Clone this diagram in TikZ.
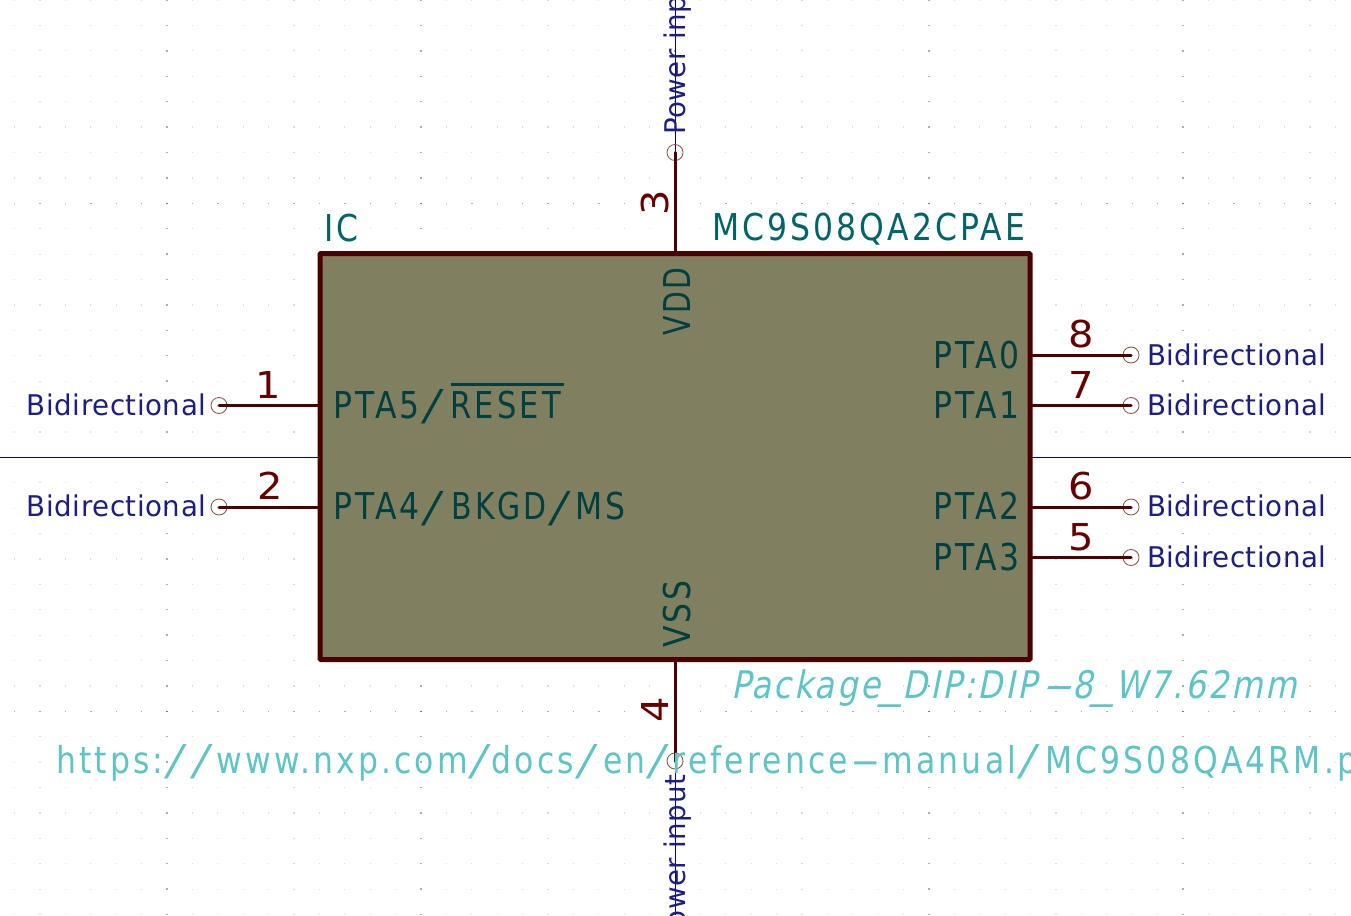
\documentclass[tikz,border=0pt]{standalone}
\usepackage{fontspec}
\setmainfont{DejaVu Sans}
\newfontfamily\nameface[FakeStretch=0.85,LetterSpace=8.5]{DejaVu Sans}
\newfontfamily\numface[FakeStretch=1.08]{DejaVu Sans}
\newfontfamily\netface[FakeStretch=0.97,LetterSpace=2]{DejaVu Sans}
\newfontfamily\slantface[FakeStretch=0.85,FakeSlant=0.2,LetterSpace=6.7]{DejaVu Sans}
\newfontfamily\slashface[FakeSlant=0.28]{Liberation Sans}
\newcommand{\wideslash}[2]{\kern#1pt\raisebox{-5.5pt}{\slashface\fontsize{47}{47}\selectfont /}\kern#2pt}
\newcommand{\widehy}{\kern2pt\scalebox{2.7}[1]{-}\kern2pt}
\newcommand{\wideus}{\scalebox{1.4}[1]{\_}}
\definecolor{pinc}{HTML}{480000}
\definecolor{numc}{HTML}{640000}
\definecolor{bodyc}{HTML}{808060}
\definecolor{namec}{HTML}{003F3F}
\definecolor{refc}{HTML}{006464}
\definecolor{netc}{HTML}{1E1E82}
\definecolor{fpc}{HTML}{5EC4C4}
\definecolor{linec}{HTML}{000084}
\definecolor{circc}{HTML}{8A4A45}
\tikzset{
  txt/.style={inner sep=0pt,outer sep=0pt},
  pinname/.style={txt,text=namec,font=\nameface\fontsize{37}{37}\selectfont},
  pinnum/.style={txt,text=numc,font=\numface\fontsize{37}{37}\selectfont},
  reftext/.style={txt,text=refc,font=\nameface\fontsize{37}{37}\selectfont},
  fptext/.style={txt,text=fpc,font=\slantface\fontsize{38}{38}\selectfont},
  urltext/.style={txt,text=fpc,font=\nameface\fontsize{37}{37}\selectfont},
  nettext/.style={txt,text=netc,font=\netface\fontsize{28.5}{28.5}\selectfont},
  pinline/.style={draw=pinc,line width=3pt,line cap=round},
  pincirc/.style={circle,draw=circc,line width=0.8pt,minimum size=16pt,inner sep=0pt},
  netline/.style={draw=linec,line width=1pt},
  bodybox/.style={rectangle,draw=pinc,fill=bodyc,line width=5pt,rounded corners=1pt,minimum width=710pt,minimum height=406pt,inner sep=0pt},
}
\begin{document}
\begin{tikzpicture}[x=1pt,y=-1pt]
\useasboundingbox (0,0) rectangle (1351,915);
\clip (0,0) rectangle (1351,915);
\fill[white] (0,0) rectangle (1351,915);
% grid
\foreach \i in {-26,...,26}{
  \foreach \j in {-6,...,30}{
    \pgfmathsetmacro{\gx}{675+25.4*\i}
    \pgfmathsetmacro{\gy}{152.5+25.4*\j}
    \pgfmathtruncatemacro{\mi}{mod(abs(\i),10)==0}
    \pgfmathtruncatemacro{\mj}{mod(abs(\j-2),10)==0}
    \pgfmathtruncatemacro{\mm}{\mi+\mj}
    \ifnum\mm=0 \fill[black!14] (\gx-0.6,\gy-0.6) rectangle (\gx+0.6,\gy+0.6);
    \else\ifnum\mm=1 \fill[black!32] (\gx-0.7,\gy-0.7) rectangle (\gx+0.7,\gy+0.7);
    \else \fill[black!55] (\gx-0.8,\gy-0.8) rectangle (\gx+0.8,\gy+0.8);\fi\fi
  }
}
% axes
\coordinate (axl) at (0,457.5);
\coordinate (axr) at (1351,457.5);
\coordinate (axt) at (675,0);
\coordinate (axb) at (675,915);
\draw[netline] (axl) -- (axr);
\draw[netline] (axt) -- (axb);
% body
\node[bodybox] (box) at (675,456.5) {};
% pin ends
\node[pincirc] (p1) at (219,405.5) {};
\node[pincirc] (p2) at (219,507) {};
\node[pincirc] (p3) at (675,152.5) {};
\node[pincirc] (p4) at (675,761) {};
\node[pincirc] (p5) at (1131,557.5) {};
\node[pincirc] (p6) at (1131,507) {};
\node[pincirc] (p7) at (1131,405.5) {};
\node[pincirc] (p8) at (1131,355) {};
\draw[pinline] (p1.center) -- (p1.center -| box.west);
\draw[pinline] (p2.center) -- (p2.center -| box.west);
\draw[pinline] (p3.center) -- (p3.center |- box.north);
\draw[pinline] (p4.center) -- (p4.center |- box.south);
\draw[pinline] (p5.center) -- (p5.center -| box.east);
\draw[pinline] (p6.center) -- (p6.center -| box.east);
\draw[pinline] (p7.center) -- (p7.center -| box.east);
\draw[pinline] (p8.center) -- (p8.center -| box.east);
% pin names
\node[pinname,anchor=base west] (n1) at (333,418) {PTA5\wideslash{2}{16}\rlap{\raisebox{32pt}{\rule{113pt}{3pt}}}\scalebox{0.97}[1]{RESET}};
\node[pinname,anchor=base west] (n2) at (333,519.5) {PTA4\wideslash{2}{17}\scalebox{0.95}[1]{BKGD}\wideslash{2}{13}MS};
\node[pinname,anchor=base east] (n8) at (1020,368) {PTA0};
\node[pinname,anchor=base east] (n7) at (1020,418.5) {PTA1};
\node[pinname,anchor=base east] (n6) at (1020,519.5) {PTA2};
\node[pinname,anchor=base east] (n5) at (1020,570) {PTA3};
\node[pinname,rotate=90,anchor=base] (n3) at (690,301.5) {\scalebox{0.9}[1]{VDD}};
\node[pinname,rotate=90,anchor=base] (n4) at (690,614) {VSS};
% pin numbers
\node[pinnum,anchor=base] (m1) at (268,398) {1};
\node[pinnum,anchor=base] (m2) at (270,499) {2};
\node[pinnum,anchor=base] (m8) at (1081,347) {8};
\node[pinnum,anchor=base] (m7) at (1081,398) {7};
\node[pinnum,anchor=base] (m6) at (1081,499) {6};
\node[pinnum,anchor=base] (m5) at (1081,550) {5};
\node[pinnum,rotate=90,anchor=base] (m3) at (668,203) {3};
\node[pinnum,rotate=90,anchor=base] (m4) at (668,709.5) {4};
% net type labels
\node[nettext,anchor=base west] (t1) at (27,415) {Bidirectional};
\node[nettext,anchor=base west] (t2) at (27,516.5) {Bidirectional};
\node[nettext,anchor=base west] (t8) at (1147,365) {Bidirectional};
\node[nettext,anchor=base west] (t7) at (1147,415.5) {Bidirectional};
\node[nettext,anchor=base west] (t6) at (1147,516.5) {Bidirectional};
\node[nettext,anchor=base west] (t5) at (1147,567.5) {Bidirectional};
\node[nettext,rotate=90,anchor=base west] (t3) at (685,135) {Power input};
\node[nettext,rotate=90,anchor=base east] (t4) at (685,775) {Power input};
% fields
\node[reftext,anchor=base west] (ref) at (324,241) {IC};
\node[reftext,anchor=base west] (val) at (712,240) {MC9S08QA2CPAE};
\node[fptext,anchor=base west] (fp) at (731,698) {Package\wideus DIP:DIP\widehy 8\wideus W7.62mm};
\node[urltext,anchor=base west] (url) at (56,773) {https:\wideslash{1}{12.5}\wideslash{1}{12.5}www.nxp.com\wideslash{1}{10}docs\wideslash{1}{15}en\wideslash{1}{13}reference\widehy manual\wideslash{1}{15}MC9S08QA4RM.pdf};
\end{tikzpicture}
\end{document}
